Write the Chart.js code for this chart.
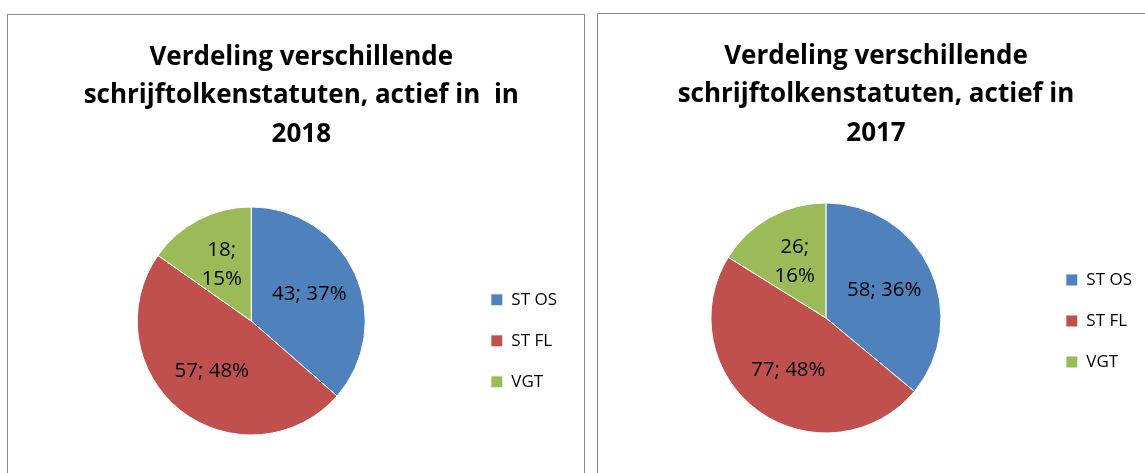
<!DOCTYPE html>
<html>
<head>
<meta charset="utf-8">
<script src="https://cdn.jsdelivr.net/npm/chart.js@4/dist/chart.umd.min.js"></script>
<style>
  html, body { margin: 0; padding: 0; background: #fff; overflow: hidden; }
  body { width: 1145px; height: 473px; position: relative; }
  .panel { position: absolute; border: 1px solid #888; background: #fff; }
  #panel2018 { left: 7px; top: 14px; width: 576px; height: 458px; }
  #panel2017 { left: 597px; top: 13px; width: 559px; height: 459px; }
  canvas { display: block; }
</style>
</head>
<body>
<div class="panel" id="panel2018"><canvas id="chart2018" width="576" height="458"></canvas></div>
<div class="panel" id="panel2017"><canvas id="chart2017" width="559" height="459"></canvas></div>
<script>
// Data
const categories = ["ST OS", "ST FL", "VGT"];
const colors = ["#4F81BD", "#C0504D", "#9BBB59"];

const values2018 = [43, 57, 18];
const percents2018 = [37, 48, 15];
const title2018 = ["Verdeling verschillende", "schrijftolkenstatuten, actief in  in", "2018"];

const values2017 = [58, 77, 26];
const percents2017 = [36, 48, 16];
const title2017 = ["Verdeling verschillende", "schrijftolkenstatuten, actief in", "2017"];

Chart.defaults.font.family = "'Open Sans', sans-serif";
Chart.defaults.color = "#000";

/**
 * Draws "value; pct%" inside each slice, wrapped on two lines for thin slices
 */
const sliceLabels = {
  id: "sliceLabels",
  afterDatasetsDraw(chart, args, opts) {
    const ctx = chart.ctx;
    const meta = chart.getDatasetMeta(0);
    ctx.save();
    ctx.font = "20.5px 'Open Sans'";
    ctx.fillStyle = "#000";
    ctx.textAlign = "center";
    ctx.textBaseline = "middle";
    meta.data.forEach((arc, i) => {
      const { x, y, startAngle, endAngle, outerRadius } = arc.getProps(
        ["x", "y", "startAngle", "endAngle", "outerRadius"], true);
      const mid = (startAngle + endAngle) / 2;
      const px = x + Math.cos(mid) * outerRadius * 0.56;
      const py = y + Math.sin(mid) * outerRadius * 0.56;
      const value = chart.data.datasets[0].data[i];
      const pct = opts.percents[i];
      const lines = (endAngle - startAngle) < 1.2
        ? [value + ";", pct + "%"]
        : [value + "; " + pct + "%"];
      const lh = 29;
      lines.forEach((line, j) => {
        ctx.fillText(line, px, py + (j - (lines.length - 1) / 2) * lh);
      });
    });
    ctx.restore();
  },
};

function createPie(canvasId, values, percents, title, layout) {
  const ctx = document.getElementById(canvasId).getContext("2d");
  return new Chart(ctx, {
    type: "pie",
    data: {
      labels: categories,
      datasets: [
        {
          data: values,
          backgroundColor: colors,
          borderColor: "#fff",
          borderWidth: 1,
        },
      ],
    },
    options: {
      responsive: false,
      animation: false,
      layout: { padding: layout.padding },
      plugins: {
        title: {
          display: true,
          text: title,
          color: "#000",
          font: { size: 26, weight: "bold", lineHeight: 1.48 },
          padding: { top: 23, bottom: layout.titleGap },
        },
        legend: {
          display: true,
          position: "right",
          fullSize: false,
          title: {
            display: true,
            text: "",
            font: { size: 1 },
            padding: { top: layout.legendShift, bottom: 0 },
          },
          labels: {
            font: { size: 17 },
            color: "#000",
            boxWidth: 12,
            boxHeight: 12,
            padding: 24,
          },
        },
        tooltip: { enabled: false },
        sliceLabels: { percents: percents },
      },
    },
    plugins: [sliceLabels],
  });
}

createPie("chart2018", values2018, percents2018, title2018, {
  padding: { left: 27.6, right: 17, top: 0, bottom: 37.5 },
  titleGap: 53,
  legendShift: 38.6,
});

createPie("chart2017", values2017, percents2017, title2017, {
  padding: { left: 12, right: 15, top: 0, bottom: 39.5 },
  titleGap: 50,
  legendShift: 4.8,
});
</script>
</body>
</html>
